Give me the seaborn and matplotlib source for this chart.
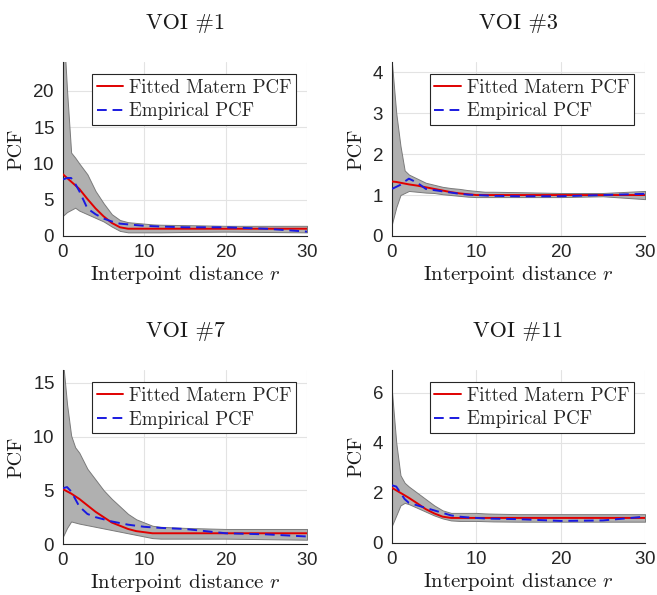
# PCF envelopes for four VOIs: fitted Matern vs empirical pair correlation

import numpy as np
import pandas as pd
import matplotlib.pyplot as plt
import seaborn as sns

# Interpoint distance grid
r = [0, 0.5, 1, 1.5, 2, 3, 4, 5, 6, 7, 8, 9, 10, 11, 12, 15, 20, 25, 30]

# VOI #1
upper_1 = [30, 20, 11.5, 10.8, 10, 8.5, 6.2, 4.5, 3.0, 2.2, 1.9, 1.8, 1.7, 1.6, 1.55, 1.5, 1.4, 1.4, 1.4]
lower_1 = [2.8, 3.3, 3.6, 3.9, 3.5, 3.0, 2.5, 2.0, 1.3, 0.7, 0.5, 0.5, 0.5, 0.5, 0.5, 0.55, 0.6, 0.55, 0.5]
fitted_1 = [8.5, 8.0, 7.5, 7.0, 6.5, 5.1, 3.8, 2.7, 1.8, 1.2, 1.0, 1.0, 1.0, 1.0, 1.0, 1.0, 1.0, 1.0, 1.0]
empirical_1 = [7.8, 8.0, 8.0, 7.2, 6.2, 3.8, 3.0, 2.4, 2.0, 1.7, 1.6, 1.5, 1.4, 1.35, 1.3, 1.2, 1.2, 1.0, 0.6]

# VOI #3
upper_3 = [4.2, 3.0, 2.2, 1.6, 1.5, 1.4, 1.3, 1.25, 1.2, 1.17, 1.15, 1.12, 1.1, 1.08, 1.08, 1.07, 1.05, 1.05, 1.1]
lower_3 = [0.3, 0.7, 1.0, 1.05, 1.1, 1.08, 1.06, 1.05, 1.02, 1.0, 0.98, 0.96, 0.95, 0.95, 0.95, 0.95, 0.95, 0.97, 0.9]
fitted_3 = [1.33, 1.32, 1.3, 1.28, 1.26, 1.23, 1.19, 1.15, 1.11, 1.07, 1.04, 1.02, 1.0, 1.0, 1.0, 1.0, 1.0, 1.0, 1.0]
empirical_3 = [1.15, 1.2, 1.25, 1.33, 1.4, 1.3, 1.15, 1.12, 1.09, 1.06, 1.03, 1.01, 1.0, 0.99, 0.98, 0.97, 0.97, 1.0, 1.03]

# VOI #7
upper_7 = [17, 13, 10.1, 9.0, 8.5, 7.0, 6.0, 5.0, 4.2, 3.5, 2.8, 2.3, 2.0, 1.7, 1.6, 1.5, 1.4, 1.4, 1.4]
lower_7 = [0.7, 1.5, 2.1, 2.0, 1.9, 1.75, 1.6, 1.45, 1.3, 1.15, 1.0, 0.85, 0.7, 0.55, 0.5, 0.5, 0.5, 0.45, 0.4]
fitted_7 = [5.1, 4.9, 4.7, 4.45, 4.2, 3.6, 3.0, 2.5, 2.0, 1.7, 1.4, 1.2, 1.1, 1.0, 1.0, 1.0, 1.0, 1.0, 1.0]
empirical_7 = [5.2, 5.3, 4.9, 4.2, 3.5, 2.8, 2.5, 2.3, 2.1, 1.95, 1.8, 1.7, 1.6, 1.55, 1.5, 1.4, 1.0, 0.9, 0.7]

# VOI #11
upper_11 = [6.0, 4.0, 2.7, 2.4, 2.25, 2.0, 1.75, 1.5, 1.3, 1.2, 1.2, 1.2, 1.2, 1.18, 1.17, 1.15, 1.15, 1.15, 1.15]
lower_11 = [0.7, 1.1, 1.5, 1.6, 1.55, 1.4, 1.25, 1.1, 0.98, 0.9, 0.88, 0.88, 0.88, 0.87, 0.86, 0.85, 0.85, 0.85, 0.85]
fitted_11 = [2.2, 2.1, 2.0, 1.9, 1.8, 1.58, 1.35, 1.18, 1.05, 1.0, 1.0, 1.0, 1.0, 1.0, 1.0, 1.0, 1.0, 1.0, 1.0]
empirical_11 = [2.3, 2.25, 2.0, 1.75, 1.6, 1.5, 1.4, 1.3, 1.2, 1.1, 1.05, 1.02, 1.0, 0.98, 0.97, 0.95, 0.88, 0.9, 1.05]

titles = ['VOI #1', 'VOI #3', 'VOI #7', 'VOI #11']
ytops = [24, 4.25, 16.2, 6.9]
yticks = [[0, 5, 10, 15, 20], [0, 1, 2, 3, 4], [0, 5, 10, 15], [0, 2, 4, 6]]
panels = [
    (upper_1, lower_1, fitted_1, empirical_1),
    (upper_3, lower_3, fitted_3, empirical_3),
    (upper_7, lower_7, fitted_7, empirical_7),
    (upper_11, lower_11, fitted_11, empirical_11),
]

# axes boxes in figure fractions [left, bottom, width, height]
boxes = [
    [0.0959, 0.6034, 0.3714, 0.2924],
    [0.5967, 0.6034, 0.3851, 0.2924],
    [0.0959, 0.0857, 0.3714, 0.2924],
    [0.5967, 0.0874, 0.3851, 0.2908],
]

sns.set_theme(style='whitegrid')
plt.rcParams['font.family'] = ['Liberation Sans', 'DejaVu Sans']
plt.rcParams['mathtext.fontset'] = 'cm'
plt.rcParams['axes.formatter.use_mathtext'] = True

serif = {'family': 'cmr10'}

fig = plt.figure(figsize=(6.57, 5.95), dpi=100)

for i in range(4):
    up, lo, fit, emp = panels[i]
    df = pd.DataFrame({'r': r, 'Fitted Matern PCF': fit, 'Empirical PCF': emp})
    ax = fig.add_axes(boxes[i])
    ax.fill_between(r, lo, up, facecolor='#b0b0b0', edgecolor='#7a7a7a', linewidth=0.7, zorder=2)
    sns.lineplot(data=df, x='r', y='Fitted Matern PCF', ax=ax, color='#e00000', linewidth=1.4,
                 label='Fitted Matern PCF', zorder=3)
    sns.lineplot(data=df, x='r', y='Empirical PCF', ax=ax, color='#1a1ae0', linewidth=1.4,
                 linestyle=(0, (5, 3)), label='Empirical PCF', zorder=4)
    ax.set_xlim(0, 30)
    ax.set_ylim(0, ytops[i])
    ax.set_xticks([0, 10, 20, 30])
    ax.set_yticks(yticks[i])
    ax.grid(True, color='#e3e3e3', linewidth=0.8)
    ax.set_axisbelow(True)
    for side in ['top', 'right']:
        ax.spines[side].set_visible(False)
    for side in ['left', 'bottom']:
        ax.spines[side].set_color('#262626')
        ax.spines[side].set_linewidth(0.8)
    ax.tick_params(axis='both', direction='in', length=3, width=0.6, colors='#262626',
                   labelsize=13.5, pad=6)
    ax.set_title(titles[i], fontdict=serif, fontsize=16, pad=24, color='#1a1a1a')
    ax.set_xlabel('Interpoint distance $r$', fontdict=serif, fontsize=15, color='#1a1a1a', labelpad=2)
    ax.set_ylabel('PCF', fontdict=serif, fontsize=14.5, color='#1a1a1a', labelpad=5)
    leg = ax.legend(loc='upper right', bbox_to_anchor=(0.955, 0.93), frameon=True, fancybox=False,
                    prop={'family': 'cmr10', 'size': 13.6}, handlelength=1.4, handletextpad=0.3,
                    borderpad=0.25, labelspacing=0.3, borderaxespad=0)
    leg.get_frame().set_edgecolor('#262626')
    leg.get_frame().set_linewidth(0.8)
    leg.get_frame().set_alpha(1)

plt.savefig('out.png', dpi=100)
